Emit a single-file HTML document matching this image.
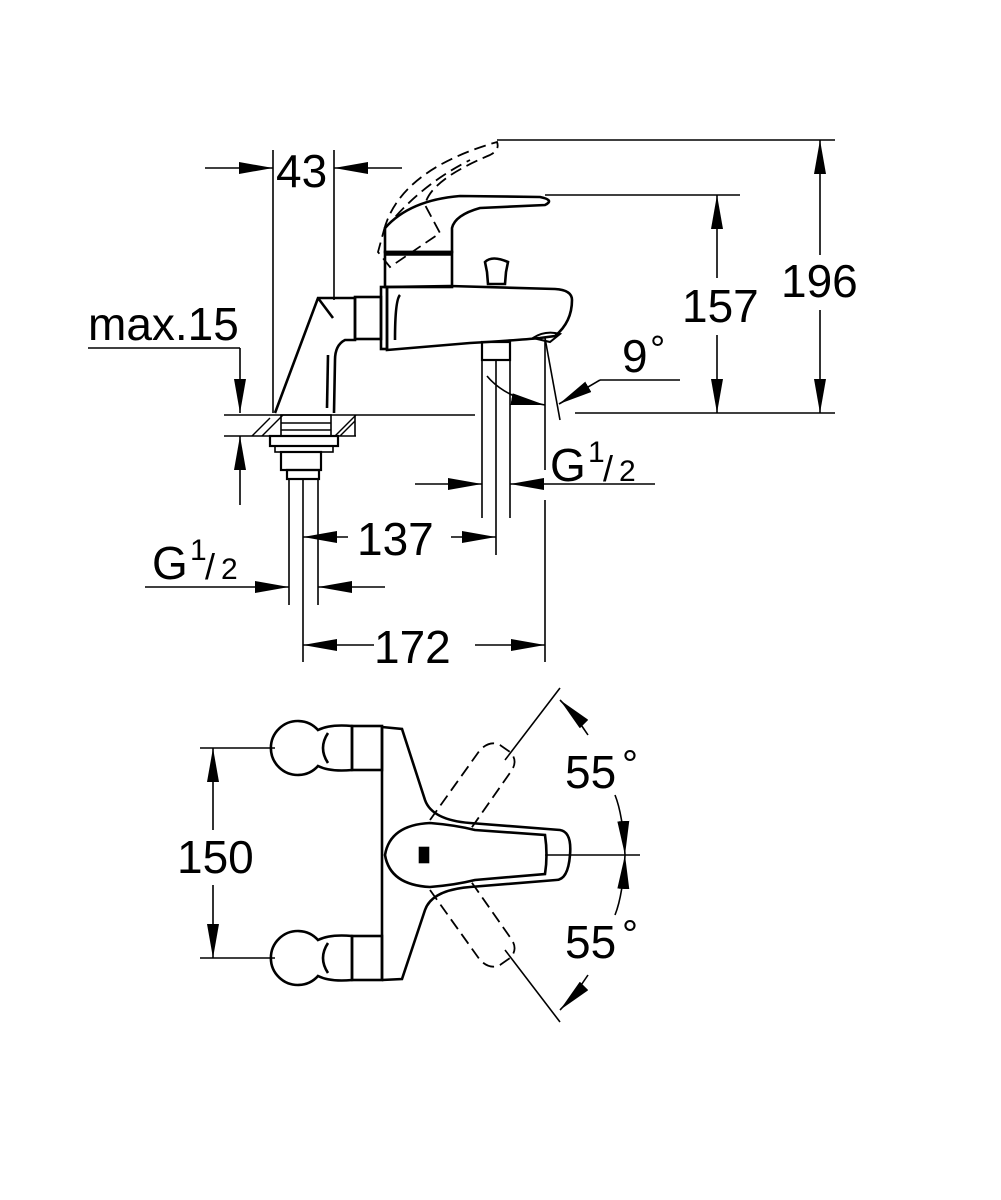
<!DOCTYPE html>
<html><head><style>
html,body{margin:0;padding:0;background:#fff;}
svg{display:block;}
text{font-family:"Liberation Sans",Arial,sans-serif;fill:#000;}
</style></head><body>
<svg width="1001" height="1200" viewBox="0 0 1001 1200" xmlns="http://www.w3.org/2000/svg">
<defs>
<marker id="a" viewBox="0 0 34 12" refX="34" refY="6" markerWidth="34" markerHeight="12" markerUnits="userSpaceOnUse" orient="auto"><path d="M0,0 L34,6 L0,12 Z" fill="#000"/></marker>
</defs>
<g stroke="#000" fill="none" stroke-width="1.6">
<line x1="273" y1="150" x2="273" y2="413"/>
<line x1="334" y1="150" x2="334" y2="300"/>
<line x1="205" y1="168" x2="273" y2="168" marker-end="url(#a)"/>
<line x1="402" y1="168" x2="334" y2="168" marker-end="url(#a)"/>
<line x1="497" y1="140" x2="835" y2="140"/>
<line x1="575" y1="413" x2="835" y2="413"/>
<line x1="820" y1="255" x2="820" y2="140" marker-end="url(#a)"/>
<line x1="820" y1="310" x2="820" y2="413" marker-end="url(#a)"/>
<line x1="545" y1="195" x2="740" y2="195"/>
<line x1="717" y1="278" x2="717" y2="195" marker-end="url(#a)"/>
<line x1="717" y1="335" x2="717" y2="413" marker-end="url(#a)"/>
<line x1="88" y1="348" x2="240" y2="348"/>
<line x1="240" y1="348" x2="240" y2="413" marker-end="url(#a)"/>
<line x1="240" y1="505" x2="240" y2="436" marker-end="url(#a)"/>
<line x1="224" y1="415" x2="475" y2="415"/>
<line x1="224" y1="436" x2="356" y2="436"/>
<g stroke-width="1.4">
<line x1="252" y1="436" x2="270" y2="418"/><line x1="262" y1="436" x2="283" y2="415"/>
<line x1="335" y1="436" x2="356" y2="415"/><line x1="340" y1="436" x2="355" y2="421"/>
</g>
<line x1="355" y1="415" x2="355" y2="436"/>
<rect x="281" y="415" width="50" height="21"/>
<line x1="281" y1="423" x2="331" y2="423"/>
<line x1="281" y1="430" x2="331" y2="430"/>
<rect x="270" y="436" width="68" height="10" stroke-width="2.2"/>
<rect x="275" y="446" width="58" height="6"/>
<rect x="281" y="452" width="40" height="18" stroke-width="2.2"/>
<rect x="287" y="470" width="32" height="9" stroke-width="2.2"/>
<line x1="289" y1="479" x2="289" y2="605"/>
<line x1="318" y1="479" x2="318" y2="605"/>
<line x1="303" y1="479" x2="303" y2="662"/>
<line x1="145" y1="587" x2="289" y2="587" marker-end="url(#a)"/>
<line x1="385" y1="587" x2="318" y2="587" marker-end="url(#a)"/>
<line x1="348" y1="537" x2="303" y2="537" marker-end="url(#a)"/>
<line x1="451" y1="537" x2="496" y2="537" marker-end="url(#a)"/>
<line x1="496" y1="360" x2="496" y2="555"/>
<line x1="374" y1="645" x2="303" y2="645" marker-end="url(#a)"/>
<line x1="475" y1="645" x2="545" y2="645" marker-end="url(#a)"/>
<line x1="545" y1="500" x2="545" y2="662"/>
<line x1="545" y1="340" x2="545" y2="470"/>
<line x1="482" y1="360" x2="482" y2="518"/>
<line x1="510" y1="360" x2="510" y2="518"/>
<rect x="482" y="342" width="28" height="18" stroke-width="2.2"/>
<line x1="415" y1="484" x2="482" y2="484" marker-end="url(#a)"/>
<line x1="655" y1="484" x2="510" y2="484" marker-end="url(#a)"/>
<line x1="680" y1="380" x2="600" y2="380"/>
<line x1="600" y1="380" x2="559" y2="404" marker-end="url(#a)"/>
<path d="M487,376 Q505,398 545,405" marker-end="url(#a)"/>
<line x1="545" y1="338" x2="560" y2="420"/>
<g stroke-width="2.6">
<path d="M275,413 L318,298 L355,298 L355,340 L345,340 Q335,345 335,360 L334,413"/>
<line x1="318" y1="298" x2="333" y2="318"/>
<line x1="327" y1="408" x2="328" y2="355"/>
<rect x="355" y="297" width="26" height="42"/>
<rect x="381" y="287" width="6" height="62"/>
<path d="M387,287 L387,350 L470,343 Q520,340 540,338 L555,336 Q572,322 572,300 Q572,290 555,289 L450,286 L387,287 Z"/>
<path d="M533,338 Q545,330 560,334 L550,342 Z" stroke-width="2"/>
<path d="M400,295 Q395,300 395,340"/>
<rect x="385" y="252" width="67" height="35"/>
<line x1="385" y1="254" x2="452" y2="254" stroke-width="3.5"/>
<path d="M385,228 Q410,200 460,196 L540,197 Q555,200 545,205 L480,208 Q455,215 452,228 L452,252 L385,252 Z"/>
<path d="M485,262 Q492,255 508,262 L506,272 L505,284 L488,284 L487,272 Z"/>
</g>
<g stroke-dasharray="12,6" stroke-width="1.8">
<path d="M384,230 Q400,170 497,142 Q500,150 490,155 Q430,180 425,205 L440,233 L390,267 L378,252 Z"/>
<path d="M384,230 Q420,185 470,160"/>
</g>
</g>
<g stroke="#000" fill="none" stroke-width="1.6">
<line x1="200" y1="748" x2="275" y2="748"/>
<line x1="200" y1="958" x2="275" y2="958"/>
<line x1="213" y1="830" x2="213" y2="748" marker-end="url(#a)"/>
<line x1="213" y1="885" x2="213" y2="958" marker-end="url(#a)"/>
<g stroke-width="2.6">
<path d="M318,730 A27,27 0 1 0 318,766 Q330,772 352,770 L352,726 Q330,724 318,730 Z"/>
<path d="M318,940 A27,27 0 1 0 318,976 Q330,982 352,980 L352,936 Q330,934 318,940 Z"/>
<path d="M328,733 Q318,748 328,763"/><path d="M328,943 Q318,958 328,973"/>
<rect x="352" y="726" width="30" height="44"/>
<rect x="352" y="936" width="30" height="44"/>
<line x1="382" y1="726" x2="382" y2="980"/>
<path d="M382,727 L402,729 L425,800 Q432,820 470,823 L560,830 Q572,832 570,855 Q568,880 556,880 L470,887 Q432,890 425,910 L402,979 L382,980"/>
<path d="M430,823 Q390,825 385,855 Q390,885 430,887 Q455,885 475,880 L545,874 Q548,855 545,835 L475,830 Q455,825 430,823 Z"/>
<rect x="420" y="848" width="8" height="14" fill="#000"/>
</g>
<line x1="545" y1="855" x2="640" y2="855"/>
<line x1="560" y1="688" x2="505" y2="760"/>
<line x1="560" y1="1022" x2="505" y2="950"/>
<g stroke-dasharray="12,6" stroke-width="1.8">
<path d="M430,820 L480,750 Q490,740 500,745 L510,752 Q518,760 512,770 L470,830"/>
<path d="M430,890 L480,960 Q490,970 500,965 L510,958 Q518,950 512,940 L470,880"/>
</g>
<path d="M588,735 Q575,715 560,700" marker-end="url(#a)"/>
<path d="M615,795 Q623,815 625,855" marker-end="url(#a)"/>
<path d="M615,915 Q623,895 625,855" marker-end="url(#a)"/>
<path d="M588,975 Q575,995 560,1010" marker-end="url(#a)"/>
</g>
<g font-size="46">
<text x="276" y="187">43</text>
<text x="88" y="340">max.15</text>
<text x="781" y="297">196</text>
<text x="682" y="322">157</text>
<text x="622" y="372">9</text>
<text x="650" y="362" font-size="38">°</text>
<text x="550" y="481">G</text>
<text x="588" y="462" font-size="30">1</text>
<text x="603" y="481" font-size="36">/</text>
<text x="619" y="481" font-size="30">2</text>
<text x="152" y="579">G</text>
<text x="190" y="560" font-size="30">1</text>
<text x="205" y="579" font-size="36">/</text>
<text x="221" y="579" font-size="30">2</text>
<text x="357" y="555">137</text>
<text x="374" y="663">172</text>
<text x="177" y="873">150</text>
<text x="565" y="788">55</text>
<text x="622" y="778" font-size="40">°</text>
<text x="565" y="958">55</text>
<text x="622" y="948" font-size="40">°</text>
</g>
</svg>
</body></html>
